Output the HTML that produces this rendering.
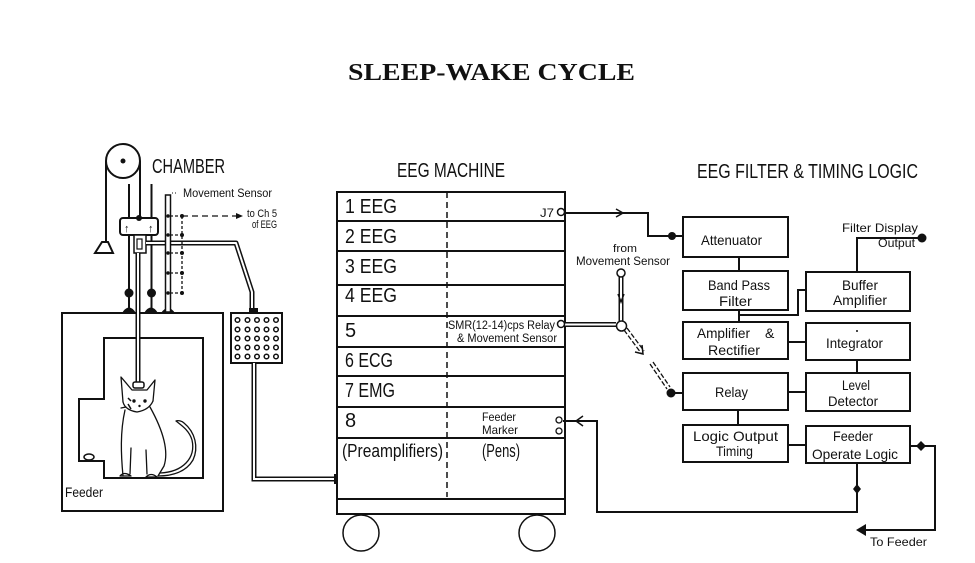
<!DOCTYPE html>
<html><head><meta charset="utf-8"><style>
html,body{margin:0;padding:0;background:#fff;}
svg{display:block;}
text{font-family:"Liberation Sans",Arial,sans-serif;fill:#111;}
.t{font-family:"Liberation Serif",serif;font-weight:bold;}
</style></head><body>
<svg width="975" height="563" viewBox="0 0 975 563" xmlns="http://www.w3.org/2000/svg">
<rect width="975" height="563" fill="#fff"/>
<text class="t" x="348" y="80" font-size="24" textLength="287" lengthAdjust="spacingAndGlyphs">SLEEP-WAKE CYCLE</text>

<!-- headings -->
<text x="152" y="173" font-size="20" textLength="73" lengthAdjust="spacingAndGlyphs">CHAMBER</text>
<text x="397" y="177" font-size="20" textLength="108" lengthAdjust="spacingAndGlyphs">EEG MACHINE</text>
<text x="697" y="178" font-size="20" textLength="221" lengthAdjust="spacingAndGlyphs">EEG FILTER &amp; TIMING LOGIC</text>

<!-- ===== CHAMBER ===== -->
<g stroke="#111" fill="none" stroke-width="2">
  <circle cx="123" cy="161" r="17"/>
  <line x1="106" y1="161" x2="106" y2="242"/>
  <line x1="140" y1="161" x2="140" y2="218"/>
  <polygon points="102,242 108,242 113,253 95,253" stroke-width="2"/>
  <line x1="129" y1="184" x2="129" y2="312"/>
  <line x1="151.5" y1="184" x2="151.5" y2="312"/>
  <rect x="120" y="218" width="38" height="17" rx="3" fill="#fff"/>
  <rect x="134" y="235" width="12" height="18" fill="#fff" stroke-width="1.5"/>
  <rect x="137" y="239" width="5" height="10" stroke-width="1.2"/>
  <!-- chamber outer -->
  <rect x="62" y="313" width="161" height="198"/>
  <path d="M104,338 H203 V478 H104 V461 H79 V399 H104 Z"/>
</g>
<circle cx="123" cy="161" r="2.5" fill="#111"/>
<circle cx="139" cy="218" r="3" fill="#111"/>
<text x="124" y="232" font-size="11" font-weight="bold">↑</text>
<text x="148" y="232" font-size="11" font-weight="bold">↑</text>
<circle cx="129" cy="293" r="4.5" fill="#111"/>
<circle cx="151.5" cy="293" r="4.5" fill="#111"/>
<path d="M122,313 Q129,302 136,313 Z M144,313 Q151,302 158,313 Z M161,313 Q168,303 175,313 Z" fill="#111"/>

<!-- electrode cable to cat -->
<path d="M138,253 V383" stroke="#111" stroke-width="5" fill="none"/>
<path d="M138,253 V383" stroke="#fff" stroke-width="2" fill="none"/>
<rect x="133" y="382" width="11" height="6" rx="2" fill="#fff" stroke="#111" stroke-width="1.5"/>

<!-- cable to panel -->
<path d="M146,243 H236 L252,292 V310" stroke="#111" stroke-width="5" fill="none" stroke-linejoin="round"/>
<path d="M146,243 H236 L252,292 V310" stroke="#fff" stroke-width="2" fill="none" stroke-linejoin="round"/>

<!-- movement sensor rod -->
<rect x="165.5" y="195" width="5" height="117" fill="#fff" stroke="#111" stroke-width="1.5"/>
<text x="183" y="197" font-size="11.5" textLength="89" lengthAdjust="spacingAndGlyphs">Movement Sensor</text>
<line x1="172" y1="193" x2="178" y2="193" stroke="#111" stroke-width="1" stroke-dasharray="1,2"/>
<g stroke="#111" stroke-width="1.3" stroke-dasharray="3,2" fill="none">
  <line x1="170" y1="216" x2="182" y2="216"/>
  <line x1="170" y1="235" x2="182" y2="235"/>
  <line x1="170" y1="253" x2="182" y2="253"/>
  <line x1="170" y1="273" x2="182" y2="273"/>
  <line x1="170" y1="293" x2="182" y2="293"/>
  <line x1="182" y1="216" x2="182" y2="293"/>
  <line x1="182" y1="216" x2="236" y2="216" stroke-dasharray="6,4"/>
</g>
<g fill="#111">
  <circle cx="168" cy="216" r="1.8"/><circle cx="182" cy="216" r="2"/>
  <circle cx="168" cy="235" r="1.8"/><circle cx="182" cy="235" r="2"/>
  <circle cx="168" cy="253" r="1.8"/><circle cx="182" cy="253" r="2"/>
  <circle cx="168" cy="273" r="1.8"/><circle cx="182" cy="273" r="2"/>
  <circle cx="168" cy="293" r="1.8"/><circle cx="182" cy="293" r="2"/>
  <polygon points="236,213 243,216 236,219"/>
</g>
<text x="247" y="217" font-size="11" textLength="30" lengthAdjust="spacingAndGlyphs">to Ch 5</text>
<text x="252" y="228" font-size="11" textLength="25" lengthAdjust="spacingAndGlyphs">of EEG</text>

<!-- feeder dish -->
<ellipse cx="89" cy="457" rx="5" ry="3" fill="#fff" stroke="#111" stroke-width="1.5"/>
<text x="65" y="497" font-size="14" textLength="38" lengthAdjust="spacingAndGlyphs">Feeder</text>

<!-- cat -->
<g stroke="#111" stroke-width="1.3" fill="none" stroke-linecap="round" stroke-linejoin="round">
  <path d="M123,402 L121,377 L132,390 L147,390 L155,380 L153,401"/>
  <path d="M123,402 Q125,410 137,412 Q149,410 153,401"/>
  <path d="M125,410 C120,432 121,455 123,476"/>
  <path d="M150,407 C160,425 170,448 164,466 L158,476"/>
  <path d="M131,448 L130,474 M146,450 L147,474"/>
  <path d="M120,476 Q124,471 131,476 Z M146,477 Q151,472 157,477 Z"/>
  <path d="M160,473 C183,472 196,458 192,440 C189,430 181,425 176,421 C178,420 182,421 184,423 C195,432 199,447 193,460 C186,472 172,476 158,476"/>
  <path d="M121,408 L126,407"/>
</g>
<circle cx="134" cy="401" r="1.7" fill="#111"/>
<circle cx="145" cy="401" r="1.7" fill="#111"/>
<circle cx="139.5" cy="406" r="1.2" fill="#111"/>
<path d="M128,404 L131,409 M131,401 L128,398" stroke="#111" stroke-width="1.5"/>

<!-- connector panel -->
<rect x="249" y="308" width="9" height="6" fill="#111"/>
<rect x="231" y="313" width="51" height="50" fill="#fff" stroke="#111" stroke-width="2"/>
<g fill="#fff" stroke="#111" stroke-width="1.5">
  <circle cx="237.5" cy="320" r="2.3"/><circle cx="247.5" cy="320" r="2.3"/><circle cx="257" cy="320" r="2.3"/><circle cx="266.5" cy="320" r="2.3"/><circle cx="276" cy="320" r="2.3"/>
  <circle cx="237.5" cy="329.5" r="2.3"/><circle cx="247.5" cy="329.5" r="2.3"/><circle cx="257" cy="329.5" r="2.3"/><circle cx="266.5" cy="329.5" r="2.3"/><circle cx="276" cy="329.5" r="2.3"/>
  <circle cx="237.5" cy="338.5" r="2.3"/><circle cx="247.5" cy="338.5" r="2.3"/><circle cx="257" cy="338.5" r="2.3"/><circle cx="266.5" cy="338.5" r="2.3"/><circle cx="276" cy="338.5" r="2.3"/>
  <circle cx="237.5" cy="347.5" r="2.3"/><circle cx="247.5" cy="347.5" r="2.3"/><circle cx="257" cy="347.5" r="2.3"/><circle cx="266.5" cy="347.5" r="2.3"/><circle cx="276" cy="347.5" r="2.3"/>
  <circle cx="237.5" cy="356.5" r="2.3"/><circle cx="247.5" cy="356.5" r="2.3"/><circle cx="257" cy="356.5" r="2.3"/><circle cx="266.5" cy="356.5" r="2.3"/><circle cx="276" cy="356.5" r="2.3"/>
</g>
<!-- cable panel to machine -->
<path d="M254,363 V479 H336" stroke="#111" stroke-width="5" fill="none"/>
<path d="M254,363 V479 H336" stroke="#fff" stroke-width="2" fill="none"/>
<rect x="334" y="474" width="4" height="10" fill="#111"/>

<!-- ===== EEG MACHINE ===== -->
<g stroke="#111" stroke-width="2" fill="none">
  <rect x="337" y="192" width="228" height="322"/>
  <line x1="337" y1="221" x2="565" y2="221"/>
  <line x1="337" y1="251" x2="565" y2="251"/>
  <line x1="337" y1="285" x2="565" y2="285"/>
  <line x1="337" y1="316" x2="565" y2="316"/>
  <line x1="337" y1="347" x2="565" y2="347"/>
  <line x1="337" y1="376" x2="565" y2="376"/>
  <line x1="337" y1="407" x2="565" y2="407"/>
  <line x1="337" y1="438" x2="565" y2="438"/>
  <line x1="337" y1="499" x2="565" y2="499"/>
  <circle cx="361" cy="533" r="18" stroke-width="1.5"/>
  <circle cx="537" cy="533" r="18" stroke-width="1.5"/>
</g>
<line x1="447" y1="192" x2="447" y2="497" stroke="#111" stroke-width="1.5" stroke-dasharray="6,4"/>
<g font-size="20">
  <text x="345" y="213" textLength="52" lengthAdjust="spacingAndGlyphs">1 EEG</text>
  <text x="345" y="243" textLength="52" lengthAdjust="spacingAndGlyphs">2 EEG</text>
  <text x="345" y="273" textLength="52" lengthAdjust="spacingAndGlyphs">3 EEG</text>
  <text x="345" y="302" textLength="52" lengthAdjust="spacingAndGlyphs">4 EEG</text>
  <text x="345" y="337">5</text>
  <text x="345" y="367" textLength="48" lengthAdjust="spacingAndGlyphs">6 ECG</text>
  <text x="345" y="397" textLength="50" lengthAdjust="spacingAndGlyphs">7 EMG</text>
  <text x="345" y="427">8</text>
</g>
<text x="342" y="457" font-size="18" textLength="101" lengthAdjust="spacingAndGlyphs">(Preamplifiers)</text>
<text x="482" y="457" font-size="18" textLength="38" lengthAdjust="spacingAndGlyphs">(Pens)</text>
<text x="540" y="217" font-size="12" textLength="14" lengthAdjust="spacingAndGlyphs">J7</text>
<text x="448" y="329" font-size="11.5" textLength="107" lengthAdjust="spacingAndGlyphs">SMR(12-14)cps Relay</text>
<text x="457" y="342" font-size="11.5" textLength="100" lengthAdjust="spacingAndGlyphs">&amp; Movement Sensor</text>
<text x="482" y="421" font-size="12" textLength="34" lengthAdjust="spacingAndGlyphs">Feeder</text>
<text x="482" y="434" font-size="12" textLength="36" lengthAdjust="spacingAndGlyphs">Marker</text>

<!-- ===== CONNECTIONS ===== -->
<g stroke="#111" stroke-width="2" fill="none">
  <path d="M565,213 H648 V236 H683"/>
  <path d="M616,209 L623,213 L616,217" stroke-width="1.5"/>
  <path d="M857,463 V512 H597 V421 H563"/>
  <path d="M583,416 L576,421 L583,426" stroke-width="1.5"/>
  <path d="M910,446 H935 V530 H864"/>
  <path d="M739,257 V271 M739,310 V322"/>
  <path d="M739,315 H798 V290 H806"/>
  <path d="M788,342 H806"/>
  <path d="M857,360 V373"/>
  <path d="M788,392 H806"/>
  <path d="M738,410 V425"/>
  <path d="M788,445 H806"/>
  <path d="M857,272 V238 H922"/>
  <path d="M675,393 H683"/>
</g>
<circle cx="672" cy="236" r="4" fill="#111"/>
<circle cx="922" cy="238" r="4.5" fill="#111"/>
<polygon points="921,441 926,446 921,451 916,446" fill="#111"/>
<polygon points="857,484 861,489 857,494 853,489" fill="#111"/>
<polygon points="856,530 866,524 866,536" fill="#111"/>
<circle cx="671" cy="393" r="4.5" fill="#111"/>

<!-- movement sensor input -->
<path d="M621,277 V321" stroke="#111" stroke-width="5" fill="none"/>
<path d="M621,277 V321" stroke="#fff" stroke-width="2" fill="none"/>
<path d="M565,324.5 H616" stroke="#111" stroke-width="5" fill="none"/>
<path d="M565,324.5 H616" stroke="#fff" stroke-width="2" fill="none"/>
<path d="M618,294 L621,302 L624,294" stroke="#111" stroke-width="1.5" fill="none"/>
<circle cx="621" cy="273" r="4" fill="#fff" stroke="#111" stroke-width="1.5"/>
<circle cx="621.5" cy="326" r="5" fill="#fff" stroke="#111" stroke-width="1.5"/>
<circle cx="561" cy="212" r="3.5" fill="#fff" stroke="#111" stroke-width="1.5"/>
<circle cx="561" cy="324" r="3.5" fill="#fff" stroke="#111" stroke-width="1.5"/>
<circle cx="559" cy="420" r="3" fill="#fff" stroke="#111" stroke-width="1.3"/>
<circle cx="559" cy="431" r="3" fill="#fff" stroke="#111" stroke-width="1.3"/>
<g stroke="#111" stroke-width="1.3" fill="none" stroke-dasharray="5,2">
  <path d="M624,330 L641,353 M627,328 L644,351"/>
  <path d="M650,364 L667,389 M653,362 L670,387"/>
</g>
<path d="M635,352 L643,354 L642,345" stroke="#111" stroke-width="1.5" fill="none"/>
<text x="613" y="252" font-size="11" textLength="24" lengthAdjust="spacingAndGlyphs">from</text>
<text x="576" y="265" font-size="11.5" textLength="94" lengthAdjust="spacingAndGlyphs">Movement Sensor</text>

<!-- ===== FILTER BOXES ===== -->
<g stroke="#111" stroke-width="2" fill="#fff">
  <rect x="683" y="217" width="105" height="40"/>
  <rect x="683" y="271" width="105" height="39"/>
  <rect x="683" y="322" width="105" height="37"/>
  <rect x="683" y="373" width="105" height="37"/>
  <rect x="683" y="425" width="105" height="37"/>
  <rect x="806" y="272" width="104" height="39"/>
  <rect x="806" y="323" width="104" height="37"/>
  <rect x="806" y="373" width="104" height="38"/>
  <rect x="806" y="426" width="104" height="37"/>
</g>
<g font-size="14">
  <text x="701" y="245" textLength="61" lengthAdjust="spacingAndGlyphs">Attenuator</text>
  <text x="708" y="290" textLength="62" lengthAdjust="spacingAndGlyphs">Band Pass</text>
  <text x="719" y="306" textLength="33" lengthAdjust="spacingAndGlyphs">Filter</text>
  <text x="697" y="338" textLength="53" lengthAdjust="spacingAndGlyphs">Amplifier</text>
  <text x="765" y="338">&amp;</text>
  <text x="708" y="355" textLength="52" lengthAdjust="spacingAndGlyphs">Rectifier</text>
  <text x="715" y="397" textLength="33" lengthAdjust="spacingAndGlyphs">Relay</text>
  <text x="693" y="441" textLength="85" lengthAdjust="spacingAndGlyphs">Logic Output</text>
  <text x="716" y="456" textLength="37" lengthAdjust="spacingAndGlyphs">Timing</text>
  <text x="842" y="290" textLength="36" lengthAdjust="spacingAndGlyphs">Buffer</text>
  <text x="833" y="305" textLength="54" lengthAdjust="spacingAndGlyphs">Amplifier</text>
  <text x="826" y="348" textLength="57" lengthAdjust="spacingAndGlyphs">Integrator</text>
  <text x="842" y="390" textLength="28" lengthAdjust="spacingAndGlyphs">Level</text>
  <text x="828" y="406" textLength="50" lengthAdjust="spacingAndGlyphs">Detector</text>
  <text x="833" y="441" textLength="40" lengthAdjust="spacingAndGlyphs">Feeder</text>
  <text x="812" y="459" textLength="86" lengthAdjust="spacingAndGlyphs">Operate Logic</text>
</g>
<circle cx="857" cy="331" r="1" fill="#111"/>
<text x="842" y="232" font-size="12" textLength="76" lengthAdjust="spacingAndGlyphs">Filter Display</text>
<text x="878" y="247" font-size="12" textLength="37" lengthAdjust="spacingAndGlyphs">Output</text>
<text x="870" y="546" font-size="12" textLength="57" lengthAdjust="spacingAndGlyphs">To Feeder</text>
</svg>
</body></html>
